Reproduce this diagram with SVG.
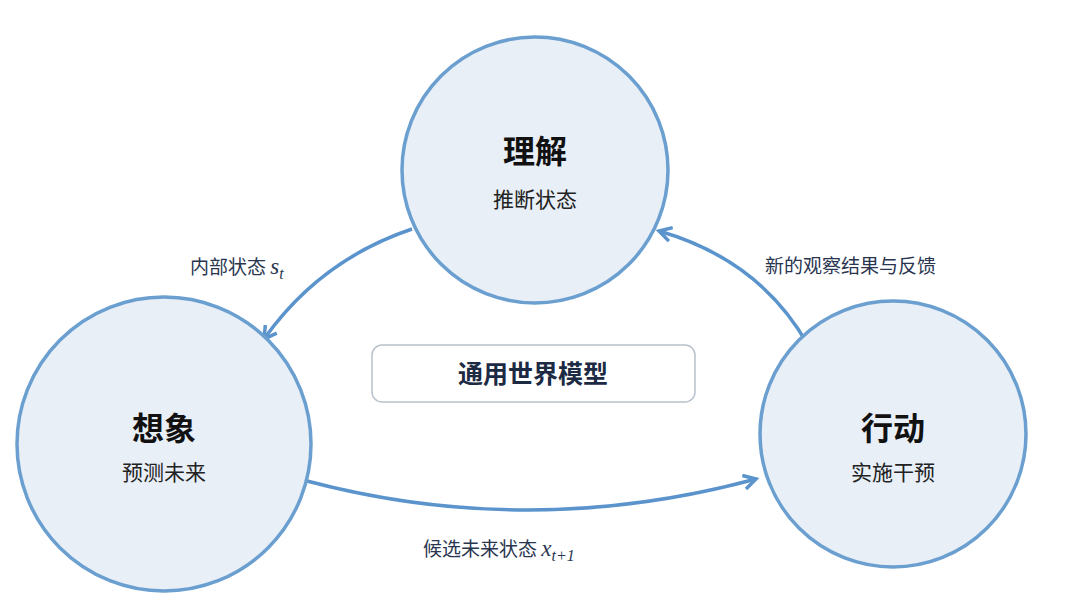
<svg xmlns="http://www.w3.org/2000/svg" width="1080" height="602" viewBox="0 0 1080 602">
<defs>
<style>
.c{fill:#e8eff7;stroke:#6a9fd0;stroke-width:3.5}
.t{font-family:"Noto Sans CJK SC","Liberation Serif",serif;fill:#111;font-weight:bold;font-size:32px;text-anchor:middle}
.s{font-family:"Noto Sans CJK SC","Liberation Serif",serif;fill:#222;font-size:21px;text-anchor:middle}
.l{font-family:"Noto Sans CJK SC","Liberation Serif",serif;fill:#2a3550;font-size:19px}
.m{font-family:"Liberation Serif",serif;font-style:italic}
.a{fill:none;stroke:#5b94cc;stroke-width:3.5;marker-end:url(#h)}
</style>
<marker id="h" viewBox="0 0 10 10" refX="8" refY="5" markerWidth="5" markerHeight="5" orient="auto" markerUnits="strokeWidth">
<path d="M1,1 L8,5 L1,9" fill="none" stroke="#5b94cc" stroke-width="2"/>
</marker>
</defs>
<rect width="1080" height="602" fill="#fff"/>
<g id="conn">
<path class="a" d="M412,229 Q320,260 264,339"/>
<path class="a" d="M307,481 Q530,540 756,479"/>
<path class="a" d="M808,345 Q760,260 659,231"/>
<text class="l" x="190" y="274">内部状态 <tspan class="m" font-size="23">s</tspan><tspan class="m" font-size="16" dy="5">t</tspan></text>
<text class="l" x="765" y="273">新的观察结果与反馈</text>
<text class="l" x="423" y="556">候选未来状态 <tspan class="m" font-size="23">x</tspan><tspan class="m" font-size="16" dy="5">t+1</tspan></text>
</g>
<g id="understand"><circle class="c" cx="535" cy="170" r="133"/>
<text class="t" x="535" y="163">理解</text><text class="s" x="535" y="207">推断状态</text></g>
<g id="imagine"><circle class="c" cx="164" cy="444" r="147"/>
<text class="t" x="164" y="440">想象</text><text class="s" x="164" y="480">预测未来</text></g>
<g id="act"><circle class="c" cx="893" cy="434" r="133"/>
<text class="t" x="893" y="440">行动</text><text class="s" x="893" y="480">实施干预</text></g>
<g id="center"><rect x="372" y="345" width="323" height="57" rx="10" fill="#fff" stroke="#b8c2cc" stroke-width="1.5"/>
<text x="533" y="383" font-family="Noto Sans CJK SC,serif" font-weight="bold" font-size="25" fill="#1d2a44" text-anchor="middle">通用世界模型</text></g>
</svg>
